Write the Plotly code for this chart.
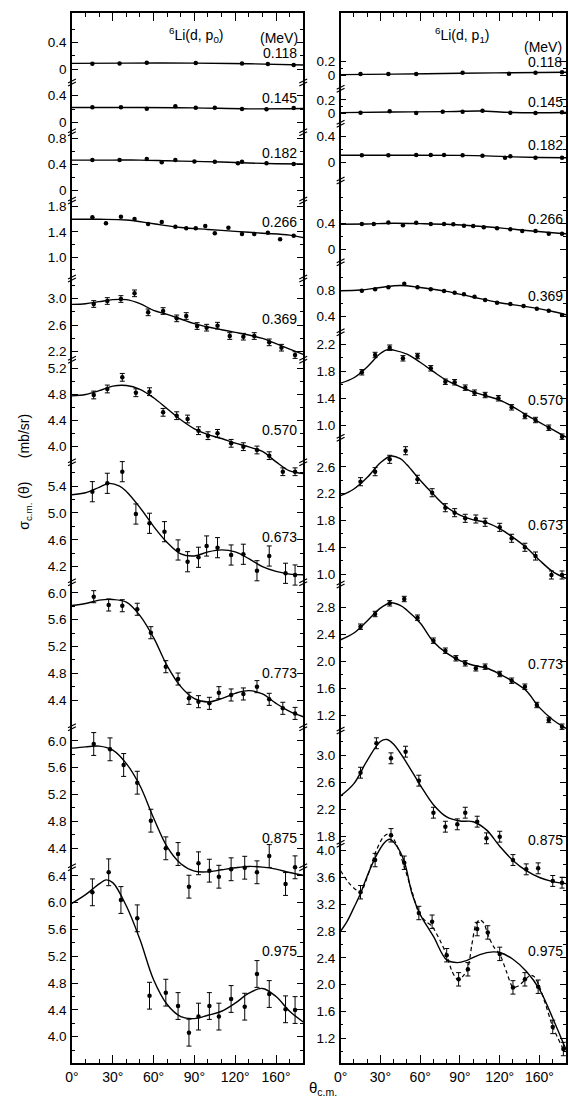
import plotly.graph_objects as go

W, H = 568, 1099
FONT = "Liberation Sans"

ENERGIES = ["0.118", "0.145", "0.182", "0.266", "0.369", "0.570", "0.673", "0.773", "0.875", "0.975"]
X_TICKS = [0, 30, 60, 90, 120, 150]
X_TICKTEXT = ["0°", "30°", "60°", "90°", "120°", "160°"]

# ---------------- 6Li(d,p0) : measured points ----------------
P0_THETA = [
    [15, 35, 55, 91, 125, 144, 163],
    [15, 36, 55, 76, 91, 105, 125, 143, 163],
    [15, 35, 55, 66, 76, 90, 105, 122, 125, 143, 163],
    [15, 25, 36, 46, 56, 66, 76, 84, 91, 98, 105, 115, 125, 134, 144, 153, 163],
    [16, 26, 36, 46, 56, 67, 77, 84, 92, 99, 107, 116, 126, 134, 145, 154, 164],
    [16, 26, 37, 47, 57, 67, 77, 85, 93, 100, 107, 117, 126, 136, 145, 155, 164],
    [15, 26, 37, 47, 57, 68, 78, 85, 93, 99, 107, 117, 126, 136, 145, 157, 164],
    [16, 27, 37, 48, 58, 69, 78, 86, 93, 101, 108, 117, 126, 136, 145, 155, 164],
    [16, 28, 38, 48, 58, 69, 78, 86, 93, 101, 108, 117, 127, 136, 145, 157, 164],
    [15, 27, 36, 48, 57, 69, 78, 86, 93, 101, 108, 117, 127, 136, 145, 157, 164],
]
P0_SIGMA = [
    [0.08, 0.085, 0.095, 0.09, 0.085, 0.075, 0.06],
    [0.228, 0.228, 0.207, 0.243, 0.222, 0.222, 0.203, 0.198, 0.217],
    [0.46, 0.46, 0.477, 0.426, 0.46, 0.44, 0.435, 0.41, 0.435, 0.41, 0.40],
    [1.632, 1.537, 1.641, 1.605, 1.526, 1.558, 1.484, 1.458, 1.458, 1.494, 1.379, 1.468, 1.368, 1.368, 1.389, 1.284, 1.341],
    [2.915, 2.96, 2.99, 3.075, 2.79, 2.81, 2.70, 2.735, 2.585, 2.56, 2.59, 2.435, 2.425, 2.435, 2.34, 2.26, 2.15],
    [4.793, 4.886, 5.066, 4.828, 4.844, 4.525, 4.473, 4.422, 4.241, 4.164, 4.20, 4.046, 3.994, 3.943, 3.855, 3.607, 3.607],
    [5.316, 5.441, 5.614, 4.984, 4.846, 4.721, 4.449, 4.274, 4.34, 4.508, 4.483, 4.374, 4.385, 4.14, 4.359, 4.102, 4.076],
    [5.942, 5.818, 5.807, 5.754, 5.404, 4.897, 4.713, 4.425, 4.375, 4.35, 4.509, 4.475, 4.49, 4.599, 4.41, 4.276, 4.20],
    [5.952, 5.873, 5.64, 5.376, 4.811, 4.40, 4.315, 3.829, 4.177, 4.067, 3.977, 4.088, 4.111, 4.043, 4.285, 3.869, 4.117],
    [6.155, 6.454, 6.04, 5.767, 4.612, 4.657, 4.458, 4.06, 4.30, 4.458, 4.30, 4.563, 4.448, 4.936, 4.637, 4.409, 4.398],
]
P0_ERR = [0, 0, 0, 0, 0.05, 0.06, 0.15, 0.09, 0.17, 0.2]

# ---------------- 6Li(d,p0) : fitted curves ----------------
G18 = [0, 10, 20, 30, 40, 50, 60, 70, 80, 90, 100, 110, 120, 130, 140, 150, 160, 170]
P0_CURVE_THETA = [
    [0, 40, 90, 130, 170],
    [0, 50, 90, 130, 170],
    [0, 30, 50, 70, 90, 110, 130, 150, 170],
    [0, 20, 40, 60, 80, 100, 120, 140, 160, 170],
    G18,
    G18,
    [0, 10, 20, 27, 35, 40, 50, 60, 70, 80, 90, 100, 110, 120, 130, 140, 150, 160, 170],
    G18,
    G18,
    [0, 10, 20, 25, 30, 40, 50, 60, 70, 80, 90, 100, 110, 120, 130, 140, 150, 160, 170],
]
P0_CURVE = [
    [0.085, 0.09, 0.09, 0.08, 0.06],
    [0.225, 0.225, 0.22, 0.205, 0.21],
    [0.46, 0.46, 0.46, 0.45, 0.44, 0.43, 0.415, 0.405, 0.40],
    [1.60, 1.60, 1.59, 1.53, 1.47, 1.44, 1.41, 1.38, 1.35, 1.31],
    [2.91, 2.92, 2.95, 2.98, 2.98, 2.92, 2.82, 2.76, 2.69, 2.62, 2.57, 2.53, 2.49, 2.45, 2.40, 2.32, 2.24, 2.16],
    [4.78, 4.80, 4.86, 4.93, 4.94, 4.88, 4.75, 4.58, 4.41, 4.27, 4.18, 4.12, 4.05, 3.99, 3.92, 3.76, 3.62, 3.58],
    [5.27, 5.30, 5.38, 5.44, 5.40, 5.32, 5.08, 4.80, 4.56, 4.39, 4.36, 4.42, 4.45, 4.42, 4.32, 4.20, 4.13, 4.09, 4.08],
    [5.81, 5.84, 5.89, 5.90, 5.86, 5.66, 5.33, 4.91, 4.60, 4.42, 4.37, 4.42, 4.50, 4.54, 4.49, 4.35, 4.23, 4.15],
    [5.89, 5.91, 5.92, 5.86, 5.66, 5.33, 4.85, 4.42, 4.17, 4.06, 4.05, 4.08, 4.11, 4.13, 4.12, 4.09, 4.04, 4.00],
    [5.99, 6.12, 6.28, 6.34, 6.30, 5.95, 5.45, 4.85, 4.48, 4.30, 4.27, 4.32, 4.38, 4.50, 4.65, 4.72, 4.60, 4.38, 4.22],
]

# ---------------- 6Li(d,p1) : measured points ----------------
P1_THETA = [
    [15, 36, 57, 92, 127, 147, 167],
    [15, 37, 57, 77, 92, 107, 128, 147, 167],
    [16, 36, 57, 68, 78, 92, 107, 124, 128, 147, 167],
    [16, 25, 36, 47, 57, 68, 78, 85, 93, 100, 108, 118, 128, 137, 147, 157, 167],
    [16, 26, 36, 48, 58, 68, 78, 86, 93, 101, 109, 118, 128, 138, 148, 157, 167],
    [16, 26, 37, 47, 58, 68, 79, 86, 94, 101, 109, 119, 129, 139, 147, 157, 167],
    [15, 26, 37, 49, 58, 69, 79, 86, 94, 102, 109, 120, 129, 139, 147, 159, 167],
    [15, 26, 37, 48, 58, 70, 79, 87, 94, 102, 109, 120, 129, 139, 148, 157, 167],
    [15, 27, 38, 49, 59, 70, 79, 88, 94, 103, 110, 120, 130, 140, 149, 160, 167],
    [15, 26, 38, 48, 59, 69, 80, 89, 96, 103, 111, 120, 130, 139, 149, 160, 168],
]
P1_SIGMA = [
    [0.014, 0.014, 0.014, 0.033, 0.019, 0.033, 0.039],
    [0.009, 0.03, 0.005, 0.024, 0.024, 0.039, 0.009, 0.005, 0.015],
    [0.114, 0.114, 0.118, 0.118, 0.118, 0.114, 0.108, 0.077, 0.098, 0.077, 0.077],
    [0.389, 0.389, 0.414, 0.37, 0.409, 0.389, 0.389, 0.385, 0.363, 0.358, 0.338, 0.323, 0.308, 0.282, 0.282, 0.24, 0.24],
    [0.80, 0.822, 0.852, 0.908, 0.852, 0.822, 0.795, 0.769, 0.745, 0.708, 0.657, 0.615, 0.595, 0.565, 0.523, 0.492, 0.426],
    [1.781, 2.037, 2.145, 1.988, 2.022, 1.84, 1.641, 1.633, 1.553, 1.479, 1.444, 1.396, 1.262, 1.133, 1.074, 0.96, 0.827],
    [2.378, 2.527, 2.711, 2.839, 2.414, 2.214, 1.991, 1.917, 1.833, 1.823, 1.774, 1.699, 1.536, 1.402, 1.272, 0.99, 0.99],
    [2.514, 2.703, 2.862, 2.926, 2.648, 2.306, 2.157, 2.044, 1.969, 1.895, 1.919, 1.81, 1.71, 1.621, 1.349, 1.126, 1.026],
    [2.741, 3.174, 2.953, 3.05, 2.624, 2.153, 1.947, 1.982, 2.153, 2.021, 1.776, 1.80, 1.457, 1.32, 1.335, 1.149, 1.124],
    [3.38, 3.86, 4.23, 3.82, 3.07, 2.94, 2.44, 2.08, 2.23, 2.83, 2.78, 2.46, 1.96, 2.08, 1.97, 1.37, 1.04],
]
P1_ERR = [0, 0, 0, 0, 0, 0.04, 0.06, 0.04, 0.08, 0.1]

# ---------------- 6Li(d,p1) : fitted curves ----------------
G19 = [0, 10, 20, 30, 38, 45, 50, 60, 70, 80, 90, 100, 110, 120, 130, 140, 150, 160, 170]
P1_CURVE_THETA = [
    [0, 40, 90, 130, 170],
    [0, 40, 80, 105, 130, 170],
    [0, 50, 90, 110, 130, 150, 170],
    [0, 20, 40, 60, 80, 100, 120, 140, 160, 170],
    [0, 15, 30, 45, 60, 80, 100, 120, 140, 160, 170],
    [0, 10, 20, 30, 36, 40, 50, 60, 70, 80, 90, 100, 110, 120, 130, 140, 150, 160, 170],
    G19,
    G19,
    [0, 10, 20, 30, 35, 40, 50, 60, 70, 80, 90, 100, 110, 120, 130, 140, 150, 160, 170],
    [0, 5, 10, 15, 20, 27, 33, 37, 42, 48, 54, 60, 70, 80, 88, 95, 105, 115, 120, 130, 140, 150, 160, 170],
]
P1_CURVE = [
    [0.005, 0.012, 0.025, 0.032, 0.04],
    [0.01, 0.02, 0.025, 0.035, 0.012, 0.012],
    [0.115, 0.115, 0.112, 0.105, 0.09, 0.08, 0.075],
    [0.385, 0.39, 0.40, 0.395, 0.385, 0.36, 0.33, 0.29, 0.255, 0.24],
    [0.80, 0.81, 0.85, 0.88, 0.85, 0.79, 0.70, 0.615, 0.555, 0.48, 0.43],
    [1.62, 1.70, 1.86, 2.06, 2.12, 2.11, 2.05, 1.93, 1.79, 1.66, 1.57, 1.49, 1.43, 1.37, 1.27, 1.15, 1.04, 0.93, 0.82],
    [2.17, 2.27, 2.44, 2.66, 2.76, 2.72, 2.63, 2.40, 2.19, 2.00, 1.88, 1.81, 1.77, 1.68, 1.55, 1.40, 1.21, 1.04, 0.94],
    [2.32, 2.42, 2.60, 2.79, 2.87, 2.83, 2.76, 2.57, 2.29, 2.12, 2.01, 1.94, 1.90, 1.81, 1.70, 1.56, 1.31, 1.13, 1.00],
    [2.40, 2.58, 2.92, 3.20, 3.23, 3.16, 2.88, 2.56, 2.27, 2.09, 2.03, 2.02, 1.90, 1.66, 1.45, 1.30, 1.20, 1.14, 1.11],
    [2.80, 2.95, 3.15, 3.36, 3.62, 3.93, 4.12, 4.17, 4.08, 3.84, 3.35, 3.05, 2.72, 2.37, 2.33, 2.36, 2.45, 2.49, 2.48, 2.38, 2.20, 1.93, 1.50, 1.03],
]
# dashed curve for 0.975 MeV (p1)
P1_DASH_THETA = [0, 7, 15, 20, 26, 32, 37, 42, 48, 54, 59, 64, 69, 75, 80, 84, 88, 92, 96, 99, 102, 105, 108,
                 112, 116, 120, 125, 130, 134, 139, 143, 146, 150, 155, 160, 164, 168, 170]
P1_DASH = [3.70, 3.50, 3.38, 3.60, 3.96, 4.20, 4.26, 4.10, 3.76, 3.38, 3.07, 2.95, 2.87, 2.66, 2.44, 2.20, 2.08,
           2.12, 2.25, 2.60, 2.90, 2.97, 2.92, 2.70, 2.55, 2.46, 2.20, 1.96, 1.98, 2.07, 2.14, 2.12, 1.97, 1.68,
           1.37, 1.20, 1.04, 1.00]

# axis ticks per panel (major labelled / minor)
P0_TICKS = [[0, 0.4], [0, 0.4], [0, 0.4, 0.8], [1.0, 1.4, 1.8], [2.2, 2.6, 3.0], [4.0, 4.4, 4.8, 5.2],
            [4.2, 4.6, 5.0, 5.4], [4.4, 4.8, 5.2, 5.6, 6.0], [4.4, 4.8, 5.2, 5.6, 6.0],
            [4.0, 4.4, 4.8, 5.2, 5.6, 6.0, 6.4]]
P0_MINOR = [[0.2, 0.6], [0.2], [0.2, 0.6], [0.8, 1.2, 1.6], [2.4, 2.8, 3.2], [4.2, 4.6, 5.0],
            [4.4, 4.8, 5.2, 5.6], [4.6, 5.0, 5.4, 5.8], [4.6, 5.0, 5.4, 5.8],
            [3.8, 4.2, 4.6, 5.0, 5.4, 5.8, 6.2]]
P1_TICKS = [[0, 0.2], [0, 0.2], [0, 0.4], [0, 0.4], [0.4, 0.8], [1.0, 1.4, 1.8, 2.2], [1.0, 1.4, 1.8, 2.2, 2.6],
            [1.2, 1.6, 2.0, 2.4, 2.8], [1.8, 2.2, 2.6, 3.0], [1.2, 1.6, 2.0, 2.4, 2.8, 3.2, 3.6, 4.0]]
P1_MINOR = [[0.1], [0.1], [0.2], [0.2, 0.6, 0.8], [0.6, 1.0], [1.2, 1.6, 2.0], [1.2, 1.6, 2.0, 2.4, 2.8],
            [1.4, 1.8, 2.2, 2.6], [2.0, 2.4, 2.8, 3.2], [1.0, 1.4, 1.8, 2.2, 2.6, 3.0, 3.4, 3.8]]

# ---------------- layout geometry (pixels) ----------------
FRAME_TOP, FRAME_BOT = 13.3, 1063.0
LEFT_X0, LEFT_X1 = 66.0, 301.0
RIGHT_X0, RIGHT_X1 = 339.0, 568.0
# per panel: (reference value, pixel row of that value, pixels per unit)
CAL_P0 = [(0, 69, 65.8), (0, 122.7, 67.5), (0, 190, 65), (1.0, 257.3, 63.3), (2.2, 351.7, 66.7),
          (4.0, 446.3, 64.7), (4.2, 566.7, 67.2), (4.4, 700, 67), (4.4, 848.3, 67.2), (4.0, 1036.7, 67)]
CAL_P1 = [(0, 75, 70), (0, 113.3, 66.7), (0, 162.7, 65), (0, 249.3, 65), (0.4, 316.7, 65),
          (1.0, 425, 67.5), (1.0, 574.3, 67.2), (1.2, 715, 67.2), (1.8, 836.7, 68), (1.2, 1038.3, 67)]
BREAKS_P0 = [82, 131.7, 200, 278, 359.3, 461.7, 581.7, 726.7, 866.7]
BREAKS_P1 = [88.3, 123.3, 180, 261.7, 331.7, 437.3, 584, 730, 843.3]
LABEL_Y_P0 = [53, 98, 153, 222, 319, 430, 537, 673, 838, 951]
LABEL_Y_P1 = [62, 102, 145, 219, 296, 400, 525, 664, 840, 951]


def px(x):
    return x / W


def py(y):
    return 1 - y / H


def fmt(v):
    return "0" if v == 0 else f"{v:.1f}"


fig = go.Figure()
layout = {}
tickfont = dict(family=FONT, size=13.5, color="black")
labfont = dict(family=FONT, size=14, color="black")

for col in range(2):
    cal = CAL_P0 if col == 0 else CAL_P1
    ticks = P0_TICKS if col == 0 else P1_TICKS
    minors = P0_MINOR if col == 0 else P1_MINOR
    th_pts = P0_THETA if col == 0 else P1_THETA
    sg_pts = P0_SIGMA if col == 0 else P1_SIGMA
    errs = P0_ERR if col == 0 else P1_ERR
    th_c = P0_CURVE_THETA if col == 0 else P1_CURVE_THETA
    sg_c = P0_CURVE if col == 0 else P1_CURVE
    xname = "x" if col == 0 else "x2"
    base = 1 + 10 * col
    for i in range(10):
        k = base + i
        v0, p0, s = cal[i]
        ybot = v0 - (FRAME_BOT - p0) / s
        ytop = v0 + (p0 - FRAME_TOP) / s
        ax = dict(
            range=[ybot, ytop], anchor=xname, tickmode="array",
            tickvals=ticks[i], ticktext=[fmt(v) for v in ticks[i]],
            ticks="inside", ticklen=6, tickwidth=1.2, tickcolor="black",
            showline=True, linecolor="black", linewidth=1.5, mirror="ticks",
            showgrid=False, zeroline=False, tickfont=tickfont, ticklabelstandoff=1,
            minor=dict(tickmode="array", tickvals=minors[i], ticks="inside", ticklen=3,
                       tickwidth=1, tickcolor="black", showgrid=False),
        )
        if i == 0:
            ax["domain"] = [py(FRAME_BOT), py(FRAME_TOP)]
        else:
            ax["overlaying"] = "y" if col == 0 else "y11"
        layout["yaxis" if k == 1 else f"yaxis{k}"] = ax
        yname = "y" if k == 1 else f"y{k}"
        fig.add_trace(go.Scatter(x=th_c[i], y=sg_c[i], mode="lines", xaxis=xname, yaxis=yname,
                                 line=dict(color="black", width=1.4, shape="spline", smoothing=1.0),
                                 hoverinfo="skip"))
        if col == 1 and i == 9:
            fig.add_trace(go.Scatter(x=P1_DASH_THETA, y=P1_DASH, mode="lines", xaxis=xname, yaxis=yname,
                                     line=dict(color="black", width=1.2, dash="4px,3px", shape="spline",
                                               smoothing=0.7), hoverinfo="skip"))
        fig.add_trace(go.Scatter(
            x=th_pts[i], y=sg_pts[i], mode="markers", xaxis=xname, yaxis=yname,
            marker=dict(color="black", size=4.5),
            error_y=dict(type="constant", value=errs[i], visible=errs[i] > 0, color="black",
                         thickness=1, width=2.5),
            cliponaxis=False))

for col in range(2):
    x0, x1 = (LEFT_X0, LEFT_X1) if col == 0 else (RIGHT_X0, RIGHT_X1)
    layout["xaxis" if col == 0 else "xaxis2"] = dict(
        domain=[px(x0), px(x1)], range=[0, 170], anchor="y" if col == 0 else "y11",
        tickmode="array", tickvals=X_TICKS, ticktext=X_TICKTEXT,
        ticks="inside", ticklen=8, tickwidth=1.2, tickcolor="black",
        showline=True, linecolor="black", linewidth=1.5, mirror="ticks",
        showgrid=False, zeroline=False, tickfont=dict(family=FONT, size=14, color="black"),
        minor=dict(tickmode="linear", tick0=0, dtick=10, ticks="inside", ticklen=4,
                   tickwidth=1, tickcolor="black", showgrid=False),
    )

annotations = []
for i, e in enumerate(ENERGIES):
    annotations.append(dict(x=px(297), y=py(LABEL_Y_P0[i]), xref="paper", yref="paper", text=e,
                            showarrow=False, xanchor="right", yanchor="middle", font=labfont))
    annotations.append(dict(x=px(527), y=py(LABEL_Y_P1[i]), xref="paper", yref="paper", text=e,
                            showarrow=False, xanchor="left", yanchor="middle", font=labfont))
annotations += [
    dict(x=px(163), y=py(35), xref="paper", yref="paper", text="<sup>6</sup>Li(d, p<sub>0</sub>)",
         showarrow=False, xanchor="left", yanchor="middle", font=labfont),
    dict(x=px(298), y=py(38), xref="paper", yref="paper", text="(MeV)",
         showarrow=False, xanchor="right", yanchor="middle", font=labfont),
    dict(x=px(433), y=py(35), xref="paper", yref="paper", text="<sup>6</sup>Li(d, p<sub>1</sub>)",
         showarrow=False, xanchor="left", yanchor="middle", font=labfont),
    dict(x=px(566), y=py(47), xref="paper", yref="paper", text="(MeV)",
         showarrow=False, xanchor="right", yanchor="middle", font=labfont),
    dict(x=px(18), y=py(472), xref="paper", yref="paper", textangle=-90,
         text="σ<sub>c.m.</sub> (θ)      (mb/sr)",
         showarrow=False, xanchor="center", yanchor="middle", font=labfont),
    dict(x=px(305), y=py(1088), xref="paper", yref="paper", text="θ<sub>c.m.</sub>",
         showarrow=False, xanchor="left", yanchor="middle", font=dict(family=FONT, size=15, color="black")),
]

shapes = []


def brk(xp, yp):
    path = (f"M {px(xp - 4)} {py(yp + 1)} L {px(xp + 4)} {py(yp - 3)} "
            f"M {px(xp - 4)} {py(yp + 4)} L {px(xp + 4)} {py(yp)}")
    return dict(type="path", xref="paper", yref="paper", path=path,
                line=dict(color="black", width=1.2))


for yb in BREAKS_P0:
    shapes.append(brk(LEFT_X0, yb))
    shapes.append(brk(LEFT_X1, yb))
for yb in BREAKS_P1:
    shapes.append(brk(RIGHT_X0, yb))

fig.update_layout(
    **layout,
    width=W, height=H, margin=dict(l=0, r=0, t=0, b=0),
    paper_bgcolor="white", plot_bgcolor="white", showlegend=False,
    annotations=annotations, shapes=shapes,
    font=dict(family=FONT, color="black"),
)

fig.write_html("out.html")
